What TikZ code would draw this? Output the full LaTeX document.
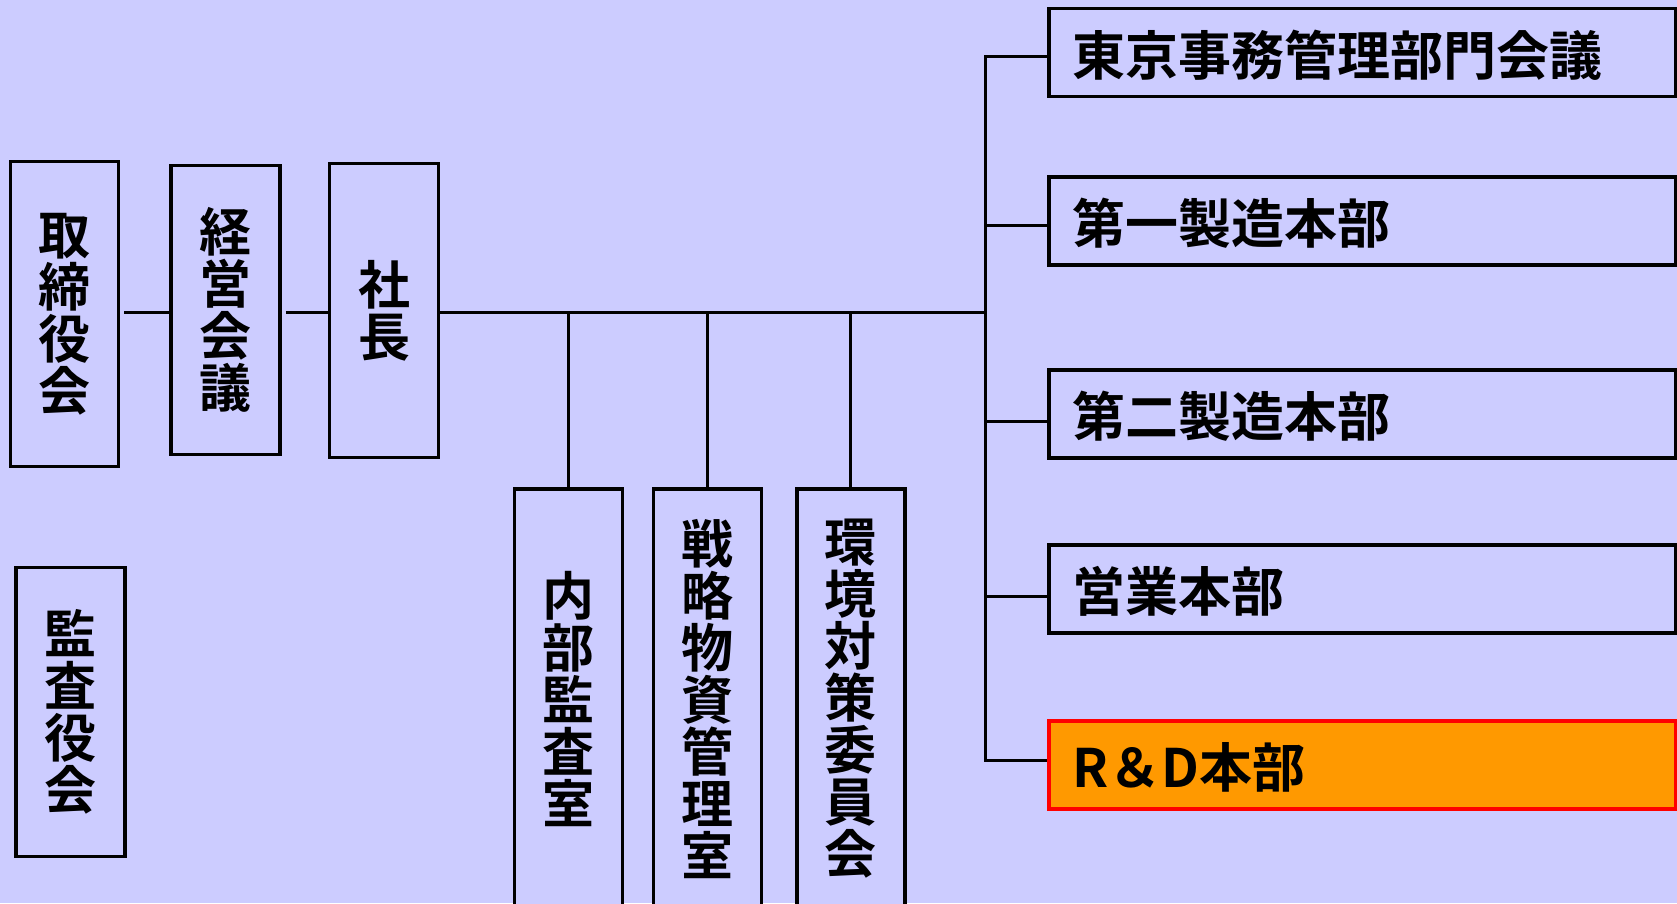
\documentclass[tikz,border=0pt]{standalone}
\usepackage{fontspec}
\setmainfont{Noto Sans CJK JP}[BoldFont={Noto Sans CJK JP Bold}]
\definecolor{bgcol}{HTML}{CCCCFF}
\definecolor{rdfill}{HTML}{FF9900}
\definecolor{rdline}{HTML}{FF0000}
\begin{document}
\begin{tikzpicture}[x=1pt,y=-1pt,
  box/.style={draw=black,line width=3.5pt,inner sep=0pt,fill=bgcol},
  vbox/.style={box,align=center,font=\bfseries\fontsize{52}{52}\selectfont},
  hbox/.style={box,anchor=west,minimum width=627pt,minimum height=88pt,
     inner xsep=24pt,text width=579pt,align=left,
     text height=46pt,text depth=0.5pt,
     font=\bfseries\fontsize{53}{53}\selectfont},
  conn/.style={line width=3pt}]
\useasboundingbox (0,0) rectangle (1677,903);
\fill[bgcol] (0,0) rectangle (1677,903);

% left column
\node[vbox,minimum width=108pt,minimum height=305pt] (tori) at (64.7,314) {取\\締\\役\\会};
\node[vbox,minimum width=109pt,minimum height=289pt] (keiei) at (225.5,310) {経\\営\\会\\議};
\node[vbox,minimum width=109pt,minimum height=294pt] (shacho) at (384,310.6) {社\\長};
\node[vbox,minimum width=109pt,minimum height=289pt] (kansa) at (70.5,712) {監\\査\\役\\会};

% bottom boxes
\node[vbox,minimum width=108pt,minimum height=420pt] (naibu) at (568.5,699) {内\\部\\監\\査\\室};
\node[vbox,minimum width=108pt,minimum height=420pt] (senryaku) at (707.5,699) {戦\\略\\物\\資\\管\\理\\室};
\node[vbox,minimum width=108pt,minimum height=420pt] (kankyo) at (850.8,699) {環\\境\\対\\策\\委\\員\\会};

% right boxes
\node[hbox] (tokyo) at (1047,52.5) {東京事務管理部門会議};
\node[hbox] (dai1) at (1047,221) {第一製造本部};
\node[hbox] (dai2) at (1047,414) {第二製造本部};
\node[hbox] (eigyo) at (1047,589) {営業本部};
\node[hbox,fill=rdfill,draw=rdline] (rd) at (1047,765) {R＆D本部};

% junction coordinates
\coordinate (mainy) at (985,312.3);
\coordinate (j1) at (985,56.7);
\coordinate (j2) at (985,225.7);
\coordinate (j3) at (985,421.4);
\coordinate (j4) at (985,596.8);
\coordinate (j5) at (985,760.4);

% connectors
\draw[conn,shorten <=4pt] (tori.east |- mainy) -- (keiei.west |- mainy);
\draw[conn,shorten <=4pt] (keiei.east |- mainy) -- (shacho.west |- mainy);
\draw[conn] (shacho.east |- mainy) -- (mainy);
\draw[conn] (naibu.north) -- (naibu.north |- mainy);
\draw[conn] (senryaku.north) -- (senryaku.north |- mainy);
\draw[conn] (kankyo.north) -- (kankyo.north |- mainy);
\draw[conn,line cap=rect] (j1) -- (j5);
\draw[conn] (j1) -- (j1 -| tokyo.west);
\draw[conn] (j2) -- (j2 -| dai1.west);
\draw[conn] (j3) -- (j3 -| dai2.west);
\draw[conn] (j4) -- (j4 -| eigyo.west);
\draw[conn] (j5) -- (j5 -| rd.west);
\end{tikzpicture}
\end{document}
